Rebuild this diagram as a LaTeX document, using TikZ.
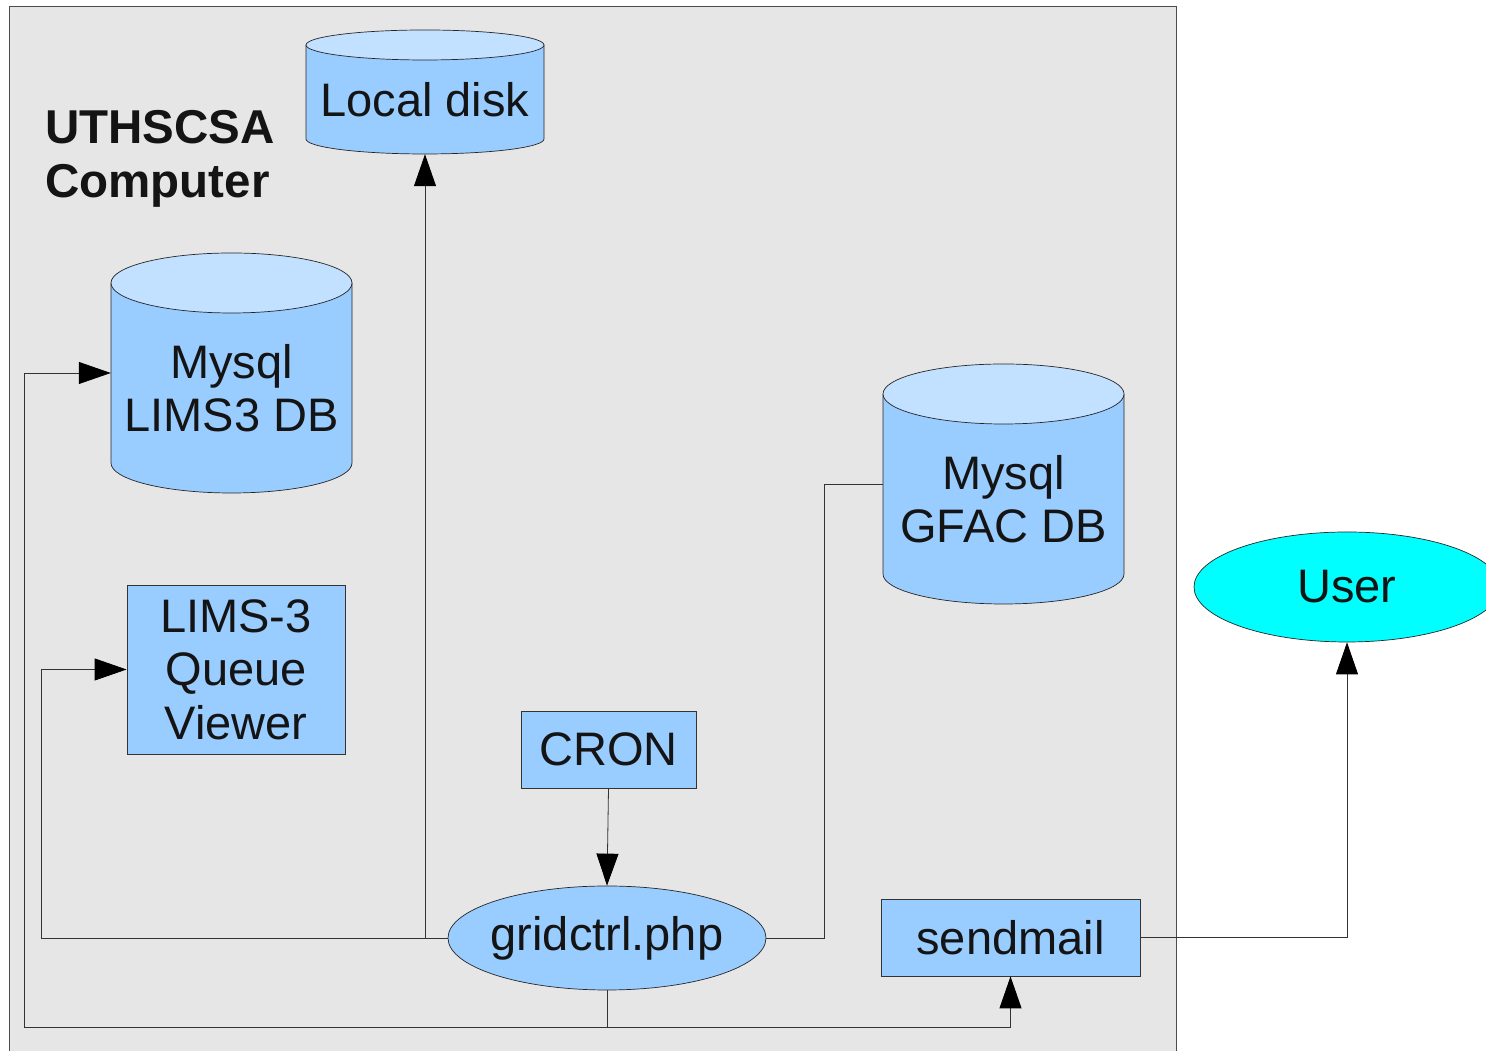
\documentclass[tikz,border=0pt]{standalone}
\usepackage{fontspec}
\setmainfont{Liberation Sans}
\usetikzlibrary{arrows.meta,shapes.geometric,calc}
\definecolor{bgray}{HTML}{E6E6E6}
\definecolor{dbblue}{HTML}{99CCFF}
\definecolor{dbtop}{HTML}{C2E0FF}
\definecolor{usercyan}{HTML}{00FFFF}
\tikzset{
  lbl/.style={font=\fontsize{47}{53.5}\selectfont, align=center, text=black!92},
  boxnode/.style={draw=black!80, line width=0.8pt, fill=dbblue, lbl},
  ellnode/.style={ellipse, draw=black!85, line width=0.7pt, lbl, inner sep=0pt},
  conn/.style={draw=black!80, line width=0.8pt},
  arr/.style={conn, -{Triangle[length=32pt,width=22pt,color=black]}},
}
% name, cx, cy, rx, half height, ry, text
\newcommand\dbcyl[7]{%
  \fill[dbblue] ({#2-#4},{#3+#5-#6}) -- ({#2-#4},{#3-#5+#6})
     arc[start angle=180,end angle=360,x radius=#4,y radius=#6]
     -- ({#2+#4},{#3+#5-#6}) -- cycle;
  \draw[black!85, line width=0.7pt] ({#2-#4},{#3+#5-#6}) -- ({#2-#4},{#3-#5+#6})
     arc[start angle=180,end angle=360,x radius=#4,y radius=#6]
     -- ({#2+#4},{#3+#5-#6});
  \filldraw[fill=dbtop, draw=black!85, line width=0.7pt] (#2,{#3+#5-#6}) ellipse[x radius=#4, y radius=#6];
  \node[minimum width={2*#4}, minimum height={2*#5}, inner sep=0pt] (#1) at (#2,#3) {};
  \node[lbl] (#1-text) at (#2,{#3-#6/2}) {#7};
}
\begin{document}
\begin{tikzpicture}[x=1pt,y=1pt]
\useasboundingbox (0,0) rectangle (1486,1051);
% gray frame
\filldraw[fill=bgray, draw=black!70, line width=0.8pt] (9,-5) rectangle (1176,1045);
\node[anchor=north west, inner sep=0pt, align=left,
      font=\bfseries\fontsize{47.5}{54}\selectfont, text=black!92] (title) at (45,941)
      {UTHSCSA\\Computer};
% cylinders
\dbcyl{local}{425}{959}{119}{62}{15}{Local disk}
\dbcyl{lims}{231.5}{678}{120.5}{120}{30}{Mysql\\LIMS3 DB}
\dbcyl{gfac}{1003.5}{567}{120.5}{120}{30}{Mysql\\GFAC DB}
% boxes
\node[boxnode, minimum width=218pt, minimum height=169pt, inner sep=0pt] (queue) at (236,381.5) {LIMS-3\\Queue\\Viewer};
\node[boxnode, minimum width=175pt, minimum height=77pt, inner sep=0pt] (cron) at (608.5,301.5) {CRON};
\node[boxnode, minimum width=259pt, minimum height=77pt, inner sep=0pt] (sendmail) at (1010.5,113.5) {sendmail};
% ellipses
\node[ellnode, fill=dbblue, minimum width=318pt, minimum height=104pt] (grid) at (607,113) {\makebox[0pt]{gridctrl.php}};
\node[ellnode, fill=usercyan, minimum width=306pt, minimum height=110pt] (user) at (1347,464) {\makebox[0pt]{User}};
% junction coordinates
\coordinate (jq) at (41,113);
\coordinate (jb) at (607,24);
\coordinate (jl) at (24,24);
\coordinate (jg) at (824,113);
% connectors
\draw[arr] (grid.west) -| (local.south);
\draw[arr] (grid.west) -- (jq) |- (queue.west);
\draw[arr] (grid.south) -- (jb) -- (jl) |- (lims.west);
\draw[arr] (jb) -| (sendmail.south);
\draw[conn] (grid.east) -- (jg) |- (gfac.west);
\draw[arr] (cron.south) -- (grid.north);
\draw[arr] (sendmail.east) -| (user.south);
\end{tikzpicture}
\end{document}
